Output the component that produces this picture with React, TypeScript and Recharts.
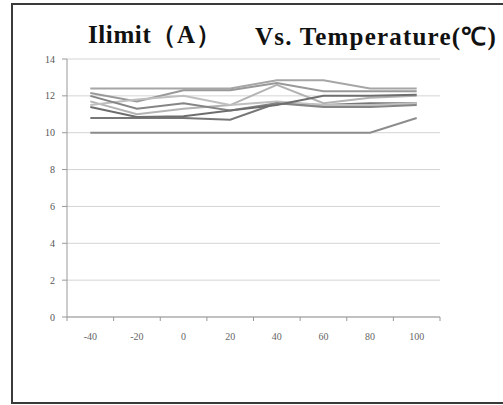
import { LineChart, Line, XAxis, YAxis, CartesianGrid } from "recharts";

const temps = ["-40", "-20", "0", "20", "40", "60", "80", "100"];
const yTicks = [0, 2, 4, 6, 8, 10, 12, 14];

const s1 = [12.4, 12.4, 12.4, 12.4, 12.85, 12.85, 12.4, 12.4];
const s2 = [10, 10, 10, 10, 10, 10, 10, 10.8];
const s3 = [10.8, 10.8, 10.8, 10.7, 11.6, 11.5, 11.6, 11.6];
const s4 = [11.7, 11.0, 11.3, 11.5, 12.6, 11.6, 11.9, 12.0];
const s5 = [12.15, 11.7, 12.3, 12.3, 12.7, 12.25, 12.25, 12.25];
const s6 = [11.5, 11.8, 12.0, 11.5, 11.7, 11.5, 11.5, 11.6];
const s7 = [12.0, 11.3, 11.6, 11.2, 11.6, 11.4, 11.4, 11.5];
const s8 = [11.4, 10.85, 10.9, 11.2, 11.5, 12.0, 12.0, 12.06];

const series = [
  { key: "s1", values: s1, color: "#a6a6a6" },
  { key: "s2", values: s2, color: "#8c8c8c" },
  { key: "s3", values: s3, color: "#777777" },
  { key: "s4", values: s4, color: "#b3b3b3" },
  { key: "s5", values: s5, color: "#999999" },
  { key: "s6", values: s6, color: "#bfbfbf" },
  { key: "s7", values: s7, color: "#858585" },
  { key: "s8", values: s8, color: "#6e6e6e" },
];

const data = temps.map((t, i) => {
  const row: Record<string, any> = { t };
  series.forEach((s) => (row[s.key] = s.values[i]));
  return row;
});

const STEP = (440 - 67) / temps.length;

function XTick(props: any) {
  const { x, y, payload, index } = props;
  const last = index === temps.length - 1;
  return (
    <g>
      <line x1={x - STEP / 2} x2={x - STEP / 2} y1={y - 8} y2={y - 4} stroke="#999" />
      {last && <line x1={x + STEP / 2} x2={x + STEP / 2} y1={y - 8} y2={y - 4} stroke="#999" />}
      <text x={x} y={y + 15} textAnchor="middle" fontSize={10} fill="#666" fontFamily="Liberation Serif">
        {payload.value}
      </text>
    </g>
  );
}

const titleStyle: React.CSSProperties = {
  position: "absolute",
  top: 18,
  fontFamily: "'Liberation Serif', 'Times New Roman', serif",
  fontWeight: "bold",
  fontSize: 25,
  color: "#111",
  whiteSpace: "pre",
};

export default function App() {
  return (
    <div style={{ position: "absolute", left: 0, top: 0, width: 503, height: 405, background: "#fff", overflow: "hidden" }}>
      <div
        style={{
          position: "absolute",
          left: 11,
          top: 3,
          width: 492,
          height: 397,
          borderTop: "2px solid #3a3a3a",
          borderLeft: "2px solid #3a3a3a",
          borderBottom: "2px solid #3a3a3a",
        }}
      />
      <div style={{ ...titleStyle, left: 88, letterSpacing: 0.6 }}>Ilimit（A）</div>
      <div style={{ ...titleStyle, left: 255, letterSpacing: 1.2 }}>Vs. Temperature(℃)</div>
      <LineChart
        width={503}
        height={405}
        data={data}
        margin={{ top: 59, right: 63, left: 37, bottom: 58 }}
        style={{ position: "absolute", left: 0, top: 0 }}
      >
        <CartesianGrid vertical={false} stroke="#d4d4d4" />
        <XAxis
          dataKey="t"
          stroke="#999"
          tickLine={false}
          height={30}
          tick={<XTick />}
          interval={0}
          padding={{ left: STEP / 2, right: STEP / 2 }}
        />
        <YAxis
          domain={[0, 14]}
          ticks={yTicks}
          width={30}
          stroke="#999"
          tickSize={5}
          tickMargin={7}
          tick={{ fontSize: 10, fill: "#555", fontFamily: "Liberation Serif" }}
        />
        {series.map((s) => (
          <Line
            key={s.key}
            dataKey={s.key}
            stroke={s.color}
            strokeWidth={2}
            dot={false}
            isAnimationActive={false}
          />
        ))}
      </LineChart>
    </div>
  );
}
